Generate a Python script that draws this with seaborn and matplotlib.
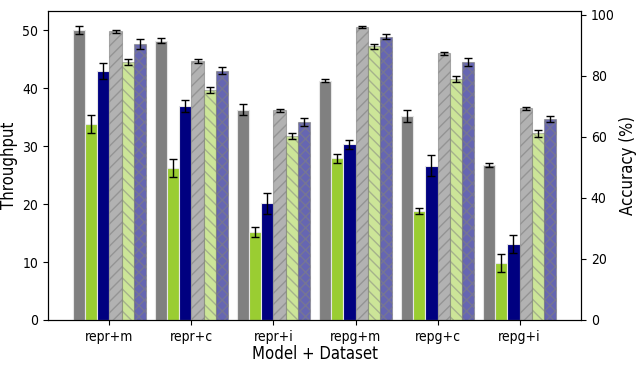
import matplotlib
matplotlib.use("Agg")
import matplotlib.pyplot as plt
import seaborn as sns
import numpy as np
import pandas as pd

plt.rcParams['font.family'] = ['DejaVu Sans']
plt.rcParams['font.stretch'] = 'condensed'

groups = ["repr+m", "repr+c", "repr+i", "repg+m", "repg+c", "repg+i"]

thr_series = ["thr_a", "thr_b", "thr_c"]
acc_series = ["acc_a", "acc_b", "acc_c"]

thr_a = [50.0, 48.2, 36.3, 41.3, 35.2, 26.7]
thr_a_err = [0.7, 0.5, 1.0, 0.3, 1.1, 0.3]
thr_b = [33.8, 26.2, 15.2, 27.9, 18.8, 9.8]
thr_b_err = [1.6, 1.6, 0.8, 0.8, 0.5, 1.6]
thr_c = [42.9, 36.9, 20.1, 30.3, 26.6, 13.1]
thr_c_err = [1.4, 1.0, 1.8, 0.8, 1.8, 1.5]

acc_a = [94.6, 84.9, 68.8, 96.0, 87.4, 69.4]
acc_a_err = [0.5, 0.5, 0.5, 0.4, 0.5, 0.4]
acc_b = [84.5, 75.4, 60.4, 89.8, 79.1, 61.2]
acc_b_err = [1.0, 1.0, 1.0, 0.8, 1.0, 1.1]
acc_c = [90.5, 81.7, 64.9, 92.9, 84.6, 65.9]
acc_c_err = [1.6, 1.2, 1.2, 0.8, 1.2, 1.1]

all_series = thr_series + acc_series
values = dict(thr_a=thr_a, thr_b=thr_b, thr_c=thr_c, acc_a=acc_a, acc_b=acc_b, acc_c=acc_c)
errors = dict(thr_a=thr_a_err, thr_b=thr_b_err, thr_c=thr_c_err,
              acc_a=acc_a_err, acc_b=acc_b_err, acc_c=acc_c_err)
palette = dict(thr_a="gray", thr_b="yellowgreen", thr_c="navy",
               acc_a="gray", acc_b="yellowgreen", acc_c="navy")
hatches = dict(acc_a="///", acc_b="\\\\\\", acc_c="xxx")
alphas = dict(acc_a=0.6, acc_b=0.5, acc_c=0.6)

rows = []
for s in all_series:
    for g, v in zip(groups, values[s]):
        rows.append(dict(Group=g, Series=s, Value=v))
df = pd.DataFrame(rows)

fig = plt.figure(figsize=(6.38, 3.71), dpi=100)
ax1 = fig.add_axes([0.0752, 0.1375, 0.9107 - 0.0752, 0.9704 - 0.1375])
ax2 = ax1.twinx()

W = 0.9
sns.barplot(data=df[df.Series.isin(thr_series)], x="Group", y="Value", hue="Series",
            hue_order=all_series, order=groups, palette=palette, width=W,
            errorbar=None, legend=False, ax=ax1, saturation=1,
            edgecolor="#e6e6e6", linewidth=0.8)
sns.barplot(data=df[df.Series.isin(acc_series)], x="Group", y="Value", hue="Series",
            hue_order=all_series, order=groups, palette=palette, width=W,
            errorbar=None, legend=False, ax=ax2, saturation=1,
            edgecolor="gray", linewidth=0.8)

n = len(all_series)
bw = W / n

def decorate(ax):
    xs, ys, es = [], [], []
    for p in ax.patches:
        h = p.get_height()
        if not np.isfinite(h) or h == 0:
            continue
        cx = p.get_x() + p.get_width() / 2
        gi = int(round(cx))
        slot = int(round((cx - gi + W / 2) / bw - 0.5))
        s = all_series[slot]
        if s in hatches:
            p.set_hatch(hatches[s])
            p.set_alpha(alphas[s])
        xs.append(cx)
        ys.append(h)
        es.append(errors[s][gi])
    ax.errorbar(xs, ys, yerr=es, fmt="none", ecolor="black", elinewidth=1.0,
                capsize=3.2, capthick=1.0, zorder=5)

decorate(ax1)
decorate(ax2)

ax1.set_xlim(-0.75, 5.75)
ax1.set_ylim(0, 53.3)
ax2.set_ylim(0, 101.3)
ax1.set_yticks([0, 10, 20, 30, 40, 50])
ax2.set_yticks([0, 20, 40, 60, 80, 100])

ax1.set_xlabel("Model + Dataset", fontsize=12, labelpad=1)
ax1.set_ylabel("Throughput", fontsize=12, labelpad=3)
ax2.set_ylabel("Accuracy (%)", fontsize=12, labelpad=3)
ax1.tick_params(axis="both", labelsize=10)
ax2.tick_params(axis="y", labelsize=10)

fig.savefig("out.png", dpi=100)
